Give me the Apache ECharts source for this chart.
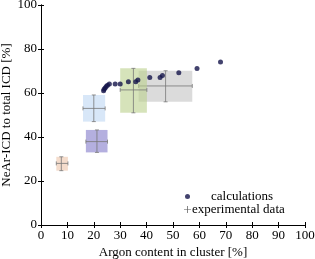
<!DOCTYPE html>
<html><head><meta charset="utf-8">
<script src="https://cdn.jsdelivr.net/npm/echarts@6/dist/echarts.min.js"></script>
<style>html,body{margin:0;padding:0;background:#fff}#c{width:315px;height:259px}</style>
</head><body><div id="c"></div>
<script>
// calculations
const calcX = [23.7, 23.9, 24.3, 24.7, 25.2, 25.9, 28.1, 30.0, 33.1, 35.9, 36.7, 41.2, 45.1, 46.0, 52.2, 59.1, 68.0];
const calcY = [61.0, 61.7, 62.3, 62.9, 63.5, 64.1, 64.1, 64.1, 65.1, 65.1, 65.9, 67.1, 67.1, 68.0, 69.2, 71.1, 74.1];
// experimental data: centre, x-range, y-range
const expX   = [7.7, 21.2, 20.0, 35.0, 47.2];
const expY   = [28.0, 37.9, 53.0, 61.4, 63.2];
const expXLo = [5.8, 17.0, 15.9, 30.0, 37.0];
const expXHi = [10.2, 25.2, 24.3, 40.1, 57.3];
const expYLo = [24.7, 33.0, 47.0, 51.0, 56.0];
const expYHi = [31.0, 43.2, 59.1, 71.2, 70.1];
const boxColors = ['rgba(236,196,170,0.6)', 'rgba(140,132,206,0.65)', 'rgba(190,215,244,0.6)', 'rgba(186,208,140,0.6)', 'rgba(200,200,200,0.65)'];
const xTicks = [0,10,20,30,40,50,60,70,80,90,100];
const yTicks = [0,20,40,60,80,100];

const font = 'Liberation Serif';
const chart = echarts.init(document.getElementById('c'));
const expData = expX.map((x,i)=>[x, expY[i], expXLo[i], expXHi[i], expYLo[i], expYHi[i], i]);
const order = [4,3,2,1,0];
const ax = {min:0,max:100,axisLine:{show:true,lineStyle:{color:'#000',width:1}},splitLine:{show:false},
  axisTick:{inside:true,length:3,lineStyle:{color:'#000'}}};
chart.setOption({
  animation:false,
  grid:{left:41,top:5,right:10,bottom:34,containLabel:false,outerBoundsMode:'none'},
  xAxis:[
    Object.assign({type:'value',interval:10,position:'bottom',name:'Argon content in cluster [%]',nameLocation:'middle',nameGap:21,
      nameMoveOverlap:false,
      nameTextStyle:{fontFamily:font,fontSize:13,color:'#000'},
      axisLabel:{fontFamily:font,fontSize:13,color:'#000',margin:4}},ax),
    Object.assign({type:'value',interval:10,position:'top',axisLabel:{show:false}},ax)
  ],
  yAxis:[
    Object.assign({type:'value',interval:20,position:'left',name:'NeAr-ICD to total ICD [%]',nameLocation:'middle',nameGap:34,
      nameMoveOverlap:false,
      nameTextStyle:{fontFamily:font,fontSize:13,color:'#000',verticalAlign:'middle'},
      axisLabel:{fontFamily:font,fontSize:13,color:'#000',margin:4}},ax),
    Object.assign({type:'value',interval:20,position:'right',axisLabel:{show:false}},ax)
  ],
  legend:[
    {left:180,top:185,orient:'vertical',itemWidth:5,itemHeight:5,itemGap:2,
      textStyle:{fontFamily:font,fontSize:13,color:'#000',padding:[0,0,0,16]},
      data:[{name:'calculations',icon:'circle'}]},
    {left:179,top:198,orient:'vertical',itemWidth:7,itemHeight:7,itemGap:0,
      textStyle:{fontFamily:font,fontSize:13,color:'#000',padding:[0,0,0,-4]},
      data:[{name:'experimental data',icon:'path://M4.5,0h1v4.5h4.5v1h-4.5v4.5h-1v-4.5h-4.5v-1h4.5z'}]}
  ],
  series:[
    {name:'experimental data',type:'custom',color:'#555',
      data:order.map(i=>expData[i]),
      renderItem:function(params,api){
        const xl=api.value(2),xh=api.value(3),yl=api.value(4),yh=api.value(5),idx=api.value(6);
        const c=api.coord([api.value(0),api.value(1)]);
        const p1=api.coord([xl,yh]),p2=api.coord([xh,yl]);
        const ls={stroke:'#777',lineWidth:0.8};
        const cap=2;
        return {type:'group',children:[
          {type:'rect',shape:{x:p1[0],y:p1[1],width:p2[0]-p1[0],height:p2[1]-p1[1]},style:{fill:boxColors[idx]}},
          {type:'line',shape:{x1:p1[0],y1:c[1],x2:p2[0],y2:c[1]},style:ls},
          {type:'line',shape:{x1:c[0],y1:p1[1],x2:c[0],y2:p2[1]},style:ls},
          {type:'line',shape:{x1:p1[0],y1:c[1]-cap,x2:p1[0],y2:c[1]+cap},style:ls},
          {type:'line',shape:{x1:p2[0],y1:c[1]-cap,x2:p2[0],y2:c[1]+cap},style:ls},
          {type:'line',shape:{x1:c[0]-cap,y1:p1[1],x2:c[0]+cap,y2:p1[1]},style:ls},
          {type:'line',shape:{x1:c[0]-cap,y1:p2[1],x2:c[0]+cap,y2:p2[1]},style:ls}
        ]};
      }},
    {name:'calculations',type:'scatter',symbol:'circle',symbolSize:5,
      itemStyle:{color:'#14144a'},
      data:calcX.map((x,i)=>[x,calcY[i]])}
  ]
});
</script></body></html>
